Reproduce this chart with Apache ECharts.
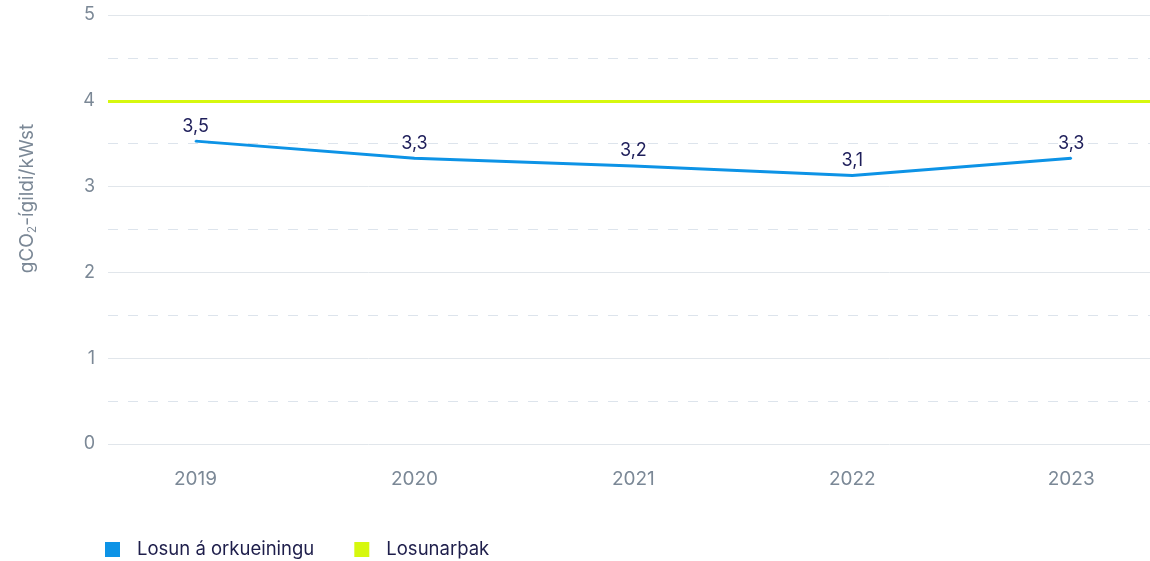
<!DOCTYPE html>
<html>
<head>
<meta charset="utf-8">
<script src="https://cdn.jsdelivr.net/npm/echarts@6/dist/echarts.min.js"></script>
<style>
  html, body { margin: 0; padding: 0; background: #fff; }
  #chart { width: 1150px; height: 561px; }
</style>
</head>
<body>
<div id="chart"></div>
<script>
// gögn
const years = [2019, 2020, 2021, 2022, 2023];
const losunValues = [3.53, 3.33, 3.24, 3.13, 3.33];
const losunLabels = ['3,5', '3,3', '3,2', '3,1', '3,3'];
const losunarthak = 4;
const seriesNames = ['Losun á orkueiningu', 'Losunarþak'];

const chart = echarts.init(document.getElementById('chart'));
const FONT = 'Inter, "Noto Sans", sans-serif';

const option = {
  backgroundColor: '#fff',
  animation: false,
  textStyle: { fontFamily: FONT },
  grid: { left: 108, right: 0, top: 15, bottom: 117 },
  legend: {
    left: 100,
    top: 535,
    icon: 'rect',
    itemWidth: 15,
    itemHeight: 15,
    itemGap: 40,
    textStyle: { color: '#1e1e4b', fontSize: 18.5, fontFamily: FONT, padding: [0, 0, 0, 12] },
    data: seriesNames
  },
  xAxis: {
    type: 'value',
    min: 2018.6,
    max: 2023.36,
    splitNumber: 5,
    axisLine: { show: false },
    axisTick: { show: false },
    splitLine: { show: false },
    axisLabel: {
      color: '#7b8896',
      fontSize: 19,
      margin: 26,
      showMinLabel: false,
      showMaxLabel: false,
      formatter: v => (Number.isInteger(v) ? String(v) : '')
    }
  },
  yAxis: {
    type: 'value',
    min: 0,
    max: 5,
    interval: 1,
    name: '{a|gCO}{s|2}{a|-ígildi/kWst}',
    nameLocation: 'middle',
    nameGap: 70,
    nameRotate: 90,
    nameTextStyle: {
      padding: [0, 0, 0, 62],
      rich: {
        a: { color: '#7b8896', fontSize: 19, fontFamily: FONT },
        s: { color: '#7b8896', fontSize: 12, fontFamily: FONT, padding: [10, 0, 0, 0] }
      }
    },
    axisLine: { show: false },
    axisTick: { show: false },
    axisLabel: { color: '#7b8896', fontSize: 18, margin: 13 },
    splitLine: { lineStyle: { color: '#e1e6eb', width: 1 } },
    minorTick: { show: false, splitNumber: 2 },
    minorSplitLine: { show: true, lineStyle: { color: '#dde4ec', type: [10, 10], width: 1 } }
  },
  series: [
    {
      name: seriesNames[0],
      type: 'line',
      data: years.map((y, i) => [y, losunValues[i]]),
      symbol: 'circle',
      symbolSize: 2,
      showSymbol: true,
      color: '#0d93e6',
      itemStyle: { color: '#0d93e6' },
      lineStyle: { width: 3, color: '#0d93e6' },
      label: {
        show: true,
        position: 'top',
        distance: 5,
        color: '#1e1e5a',
        fontSize: 18,
        formatter: p => losunLabels[p.dataIndex]
      },
      labelLayout: { hideOverlap: false },
      z: 3
    },
    {
      name: seriesNames[1],
      type: 'line',
      data: [],
      color: '#d6f80e',
      lineStyle: { width: 3, color: '#d6f80e' },
      markLine: {
        silent: true,
        symbol: 'none',
        label: { show: false },
        lineStyle: { color: '#d6f80e', width: 3, type: 'solid' },
        data: [{ yAxis: losunarthak }]
      },
      z: 2
    }
  ]
};

chart.setOption(option);
</script>
</body>
</html>
